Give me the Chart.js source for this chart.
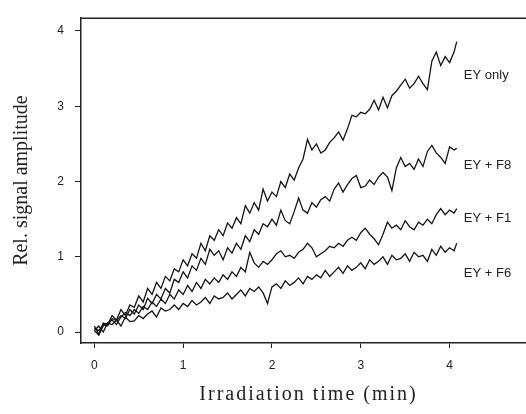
<!DOCTYPE html>
<html>
<head>
<meta charset="utf-8">
<script src="https://cdn.jsdelivr.net/npm/chart.js@4/dist/chart.umd.min.js"></script>
<style>
  body { margin: 0; background: #fff; }
</style>
</head>
<body>
<canvas id="myChart" width="526" height="414"></canvas>
<script>
// irradiation time (min), sampled every 0.05 min
const times = [0, 0.05, 0.1, 0.15, 0.2, 0.25, 0.3, 0.35, 0.4, 0.45,
  0.5, 0.55, 0.6, 0.65, 0.7, 0.75, 0.8, 0.85, 0.9, 0.95,
  1, 1.05, 1.1, 1.15, 1.2, 1.25, 1.3, 1.35, 1.4, 1.45,
  1.5, 1.55, 1.6, 1.65, 1.7, 1.75, 1.8, 1.85, 1.9, 1.95,
  2, 2.05, 2.1, 2.15, 2.2, 2.25, 2.3, 2.35, 2.4, 2.45,
  2.5, 2.55, 2.6, 2.65, 2.7, 2.75, 2.8, 2.85, 2.9, 2.95,
  3, 3.05, 3.1, 3.15, 3.2, 3.25, 3.3, 3.35, 3.4, 3.45,
  3.5, 3.55, 3.6, 3.65, 3.7, 3.75, 3.8, 3.85, 3.9, 3.95,
  4, 4.05, 4.08]

const eyOnly = [0.08, -0.03, 0.12, 0.10, 0.22, 0.16, 0.30, 0.22, 0.36, 0.33,
  0.48, 0.40, 0.58, 0.50, 0.66, 0.58, 0.74, 0.68, 0.84, 0.80,
  0.96, 0.88, 1.04, 0.98, 1.18, 1.08, 1.28, 1.22, 1.36, 1.28,
  1.45, 1.38, 1.52, 1.44, 1.68, 1.58, 1.72, 1.62, 1.90, 1.74,
  1.86, 1.80, 2.00, 1.92, 2.10, 2.02, 2.18, 2.30, 2.56, 2.42,
  2.50, 2.38, 2.42, 2.52, 2.58, 2.66, 2.55, 2.70, 2.88, 2.86,
  2.92, 2.90, 2.96, 3.08, 2.95, 3.12, 2.98, 3.14, 3.20, 3.28,
  3.36, 3.24, 3.30, 3.40, 3.30, 3.22, 3.60, 3.72, 3.54, 3.66,
  3.58, 3.72, 3.86]

const eyF8 = [0.05, 0.02, 0.10, 0.08, 0.18, 0.15, 0.22, 0.18, 0.30, 0.24,
  0.36, 0.30, 0.45, 0.38, 0.50, 0.44, 0.58, 0.52, 0.70, 0.66,
  0.80, 0.72, 0.88, 0.82, 0.98, 0.90, 1.10, 1.02, 1.08, 0.96,
  1.12, 1.05, 1.18, 1.10, 1.28, 1.20, 1.36, 1.30, 1.44, 1.40,
  1.50, 1.42, 1.62, 1.48, 1.44, 1.60, 1.78, 1.62, 1.58, 1.72,
  1.66, 1.76, 1.80, 1.74, 1.90, 1.98, 1.86, 1.96, 2.04, 2.08,
  1.92, 1.94, 2.02, 1.96, 2.06, 2.12, 2.06, 1.88, 2.18, 2.32,
  2.20, 2.24, 2.16, 2.30, 2.20, 2.40, 2.48, 2.38, 2.32, 2.24,
  2.46, 2.42, 2.44]

const eyF1 = [0.02, -0.04, 0.08, 0.12, 0.16, 0.10, 0.20, 0.26, 0.22, 0.30,
  0.25, 0.34, 0.30, 0.40, 0.34, 0.44, 0.38, 0.50, 0.44, 0.56,
  0.50, 0.62, 0.54, 0.66, 0.58, 0.70, 0.64, 0.72, 0.66, 0.76,
  0.70, 0.80, 0.74, 0.86, 0.80, 1.06, 0.92, 0.86, 0.94, 0.90,
  0.96, 1.04, 1.08, 1.00, 1.02, 0.98, 1.06, 1.10, 1.18, 1.12,
  1.00, 1.04, 1.08, 1.14, 1.12, 1.18, 1.14, 1.22, 1.26, 1.22,
  1.32, 1.38, 1.30, 1.24, 1.16, 1.30, 1.46, 1.38, 1.42, 1.36,
  1.48, 1.40, 1.36, 1.46, 1.42, 1.50, 1.44, 1.56, 1.64, 1.56,
  1.62, 1.58, 1.64]

const eyF6 = [0.02, 0.08, 0.00, 0.12, 0.10, 0.16, 0.08, 0.20, 0.14, 0.15,
  0.22, 0.18, 0.24, 0.28, 0.20, 0.32, 0.28, 0.30, 0.36, 0.30,
  0.38, 0.34, 0.42, 0.36, 0.40, 0.46, 0.38, 0.48, 0.44, 0.46,
  0.52, 0.44, 0.50, 0.56, 0.48, 0.58, 0.54, 0.60, 0.52, 0.38,
  0.60, 0.64, 0.58, 0.68, 0.62, 0.66, 0.72, 0.64, 0.74, 0.70,
  0.76, 0.72, 0.82, 0.74, 0.80, 0.86, 0.78, 0.88, 0.82, 0.86,
  0.92, 0.84, 0.96, 0.90, 0.94, 1.00, 0.90, 1.02, 0.96, 0.98,
  1.04, 0.94, 1.06, 1.00, 1.02, 0.94, 1.10, 1.02, 1.14, 1.06,
  1.12, 1.08, 1.18]

const seriesNames = ['EY only', 'EY + F8', 'EY + F1', 'EY + F6']
const seriesData = [eyOnly, eyF8, eyF1, eyF6]
// where each curve's name sits, in axis units (time, amplitude)
const nameSpots = [[4.16, 3.41], [4.16, 2.22], [4.16, 1.51], [4.16, 0.78]]
const tickValues = [0, 1, 2, 3, 4]
const xTitle = 'Irradiation time (min)'

const toPoints = (vals) => vals.map((v, i) => ({ x: times[i], y: v }))

// top frame line, spaced-out x title and curve names on the right
const extras = {
    id: 'extras',
    afterDraw(chart) {
        const ctx = chart.ctx
        const a = chart.chartArea
        ctx.save()
        ctx.strokeStyle = '#222'
        ctx.lineWidth = 1.5
        ctx.beginPath()
        ctx.moveTo(a.left, a.top)
        ctx.lineTo(a.right, a.top)
        ctx.stroke()

        ctx.fillStyle = '#222'
        ctx.textBaseline = 'middle'
        ctx.font = '13px "Liberation Sans", Arial, sans-serif'
        ctx.textAlign = 'left'
        seriesNames.forEach((name, i) => {
            const x = chart.scales.x.getPixelForValue(nameSpots[i][0])
            const y = chart.scales.y.getPixelForValue(nameSpots[i][1])
            ctx.fillText(name, x, y)
        })

        ctx.font = '20px "Liberation Serif", "Times New Roman", serif'
        ctx.textAlign = 'center'
        ctx.letterSpacing = '2px'
        ctx.fillText(xTitle, (a.left + a.right) / 2 + 5, 395)
        ctx.restore()
    }
}

const ctx = document.getElementById('myChart').getContext('2d')
const myChart = new Chart(ctx, {
    type: 'line',
    data: {
        datasets: seriesData.map((vals, i) => ({
            label: seriesNames[i],
            data: toPoints(vals),
            borderColor: '#151515',
            borderWidth: 1.3,
            pointRadius: 0,
            tension: 0,
            fill: false
        }))
    },
    plugins: [extras],
    options: {
        responsive: false,
        animation: false,
        layout: { padding: { left: 8, top: 15, right: 0, bottom: 8 } },
        plugins: {
            legend: { display: false },
            tooltip: { enabled: false }
        },
        scales: {
            x: {
                type: 'linear',
                min: -0.15,
                max: 4.86,
                afterBuildTicks: (scale) => { scale.ticks = tickValues.map(v => ({ value: v })) },
                afterFit: (scale) => { scale.height = 63 },
                grid: { drawOnChartArea: false, drawTicks: true, tickLength: 5, color: '#222' },
                border: { display: true, color: '#222', width: 1.5 },
                ticks: { color: '#222', padding: 10, font: { family: '"Liberation Sans", Arial, sans-serif', size: 12 } },
                title: { display: false }
            },
            y: {
                min: -0.145,
                max: 4.17,
                afterBuildTicks: (scale) => { scale.ticks = tickValues.map(v => ({ value: v })) },
                afterFit: (scale) => { scale.width = 73 },
                grid: { drawOnChartArea: false, drawTicks: true, tickLength: 6, color: '#222' },
                border: { display: true, color: '#222', width: 1.5 },
                ticks: { color: '#222', padding: 11, font: { family: '"Liberation Sans", Arial, sans-serif', size: 12 } },
                title: {
                    display: true,
                    text: 'Rel. signal amplitude',
                    color: '#222',
                    padding: { top: 2, bottom: 0 },
                    font: { family: '"Liberation Serif", "Times New Roman", serif', size: 20 }
                }
            }
        }
    }
})
</script>
</body>
</html>
